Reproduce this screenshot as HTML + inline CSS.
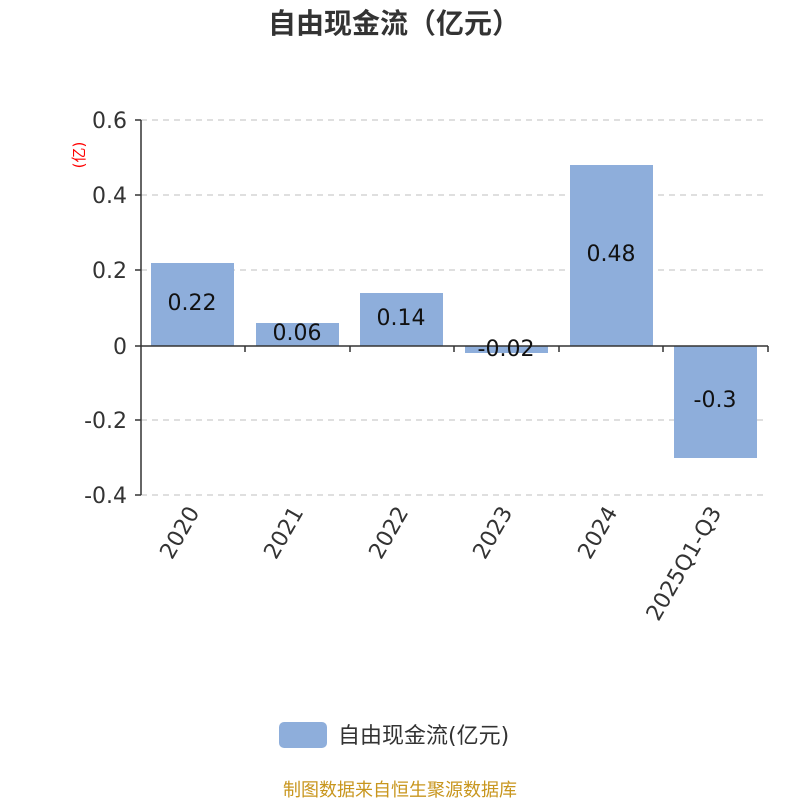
<!DOCTYPE html>
<html><head><meta charset="utf-8"><style>body{margin:0;background:#fff}</style></head><body>
<svg width="800" height="800" xmlns="http://www.w3.org/2000/svg" font-family="'DejaVu Sans','Noto Sans CJK SC',sans-serif">
<rect width="800" height="800" fill="#fff"/>
<text x="394" y="33" text-anchor="middle" font-size="28" font-weight="bold" fill="#333" font-family="'Noto Sans CJK SC',sans-serif">自由现金流（亿元）</text>
<g stroke="#ccc" stroke-dasharray="6,5" stroke-width="1.3">
<line x1="141" y1="120" x2="768" y2="120"/><line x1="141" y1="195" x2="768" y2="195"/><line x1="141" y1="270" x2="768" y2="270"/><line x1="141" y1="420" x2="768" y2="420"/><line x1="141" y1="495" x2="768" y2="495"/>
</g>
<g fill="#8eaedb">
<rect x="151" y="263" width="83" height="83"/>
<rect x="256" y="323" width="83" height="23"/>
<rect x="360" y="293" width="83" height="53"/>
<rect x="465" y="346" width="83" height="7"/>
<rect x="570" y="165" width="83" height="181"/>
<rect x="674" y="346" width="83" height="112"/>
</g>
<g stroke="#333" stroke-width="1.5">
<line x1="141" y1="120" x2="141" y2="495"/>
<line x1="135" y1="120" x2="141" y2="120"/><line x1="135" y1="195" x2="141" y2="195"/><line x1="135" y1="270" x2="141" y2="270"/><line x1="135" y1="346" x2="141" y2="346"/><line x1="135" y1="420" x2="141" y2="420"/><line x1="135" y1="495" x2="141" y2="495"/>
<line x1="141" y1="346" x2="768" y2="346"/>
<line x1="245" y1="346" x2="245" y2="352"/><line x1="350" y1="346" x2="350" y2="352"/><line x1="454" y1="346" x2="454" y2="352"/><line x1="559" y1="346" x2="559" y2="352"/><line x1="663" y1="346" x2="663" y2="352"/><line x1="768" y1="346" x2="768" y2="352"/>
</g>
<g font-size="22" fill="#333" text-anchor="end">
<text x="127" y="128">0.6</text><text x="127" y="203">0.4</text><text x="127" y="278">0.2</text><text x="127" y="354">0</text><text x="127" y="428">-0.2</text><text x="127" y="503">-0.4</text>
</g>
<text transform="translate(84,155) rotate(-90)" text-anchor="middle" font-size="15" fill="red">(亿)</text>
<g font-size="22" fill="#111" text-anchor="middle">
<text x="192" y="310">0.22</text><text x="297" y="340">0.06</text><text x="401" y="325">0.14</text><text x="506" y="356">-0.02</text><text x="611" y="261">0.48</text><text x="715" y="407">-0.3</text>
</g>
<g font-size="22" fill="#333" text-anchor="end">
<text transform="translate(200,512) rotate(-60)">2020</text>
<text transform="translate(304,512) rotate(-60)">2021</text>
<text transform="translate(409,512) rotate(-60)">2022</text>
<text transform="translate(513,512) rotate(-60)">2023</text>
<text transform="translate(618,512) rotate(-60)">2024</text>
<text transform="translate(722,512) rotate(-60)">2025Q1-Q3</text>
</g>
<rect x="279" y="722" width="48" height="26" rx="5" fill="#8eaedb"/>
<text x="338" y="743" font-size="22" fill="#333">自由现金流(亿元)</text>
<text x="400" y="796" text-anchor="middle" font-size="18" fill="#c8961e" font-family="'Noto Sans CJK SC',sans-serif">制图数据来自恒生聚源数据库</text>
</svg>
</body></html>
